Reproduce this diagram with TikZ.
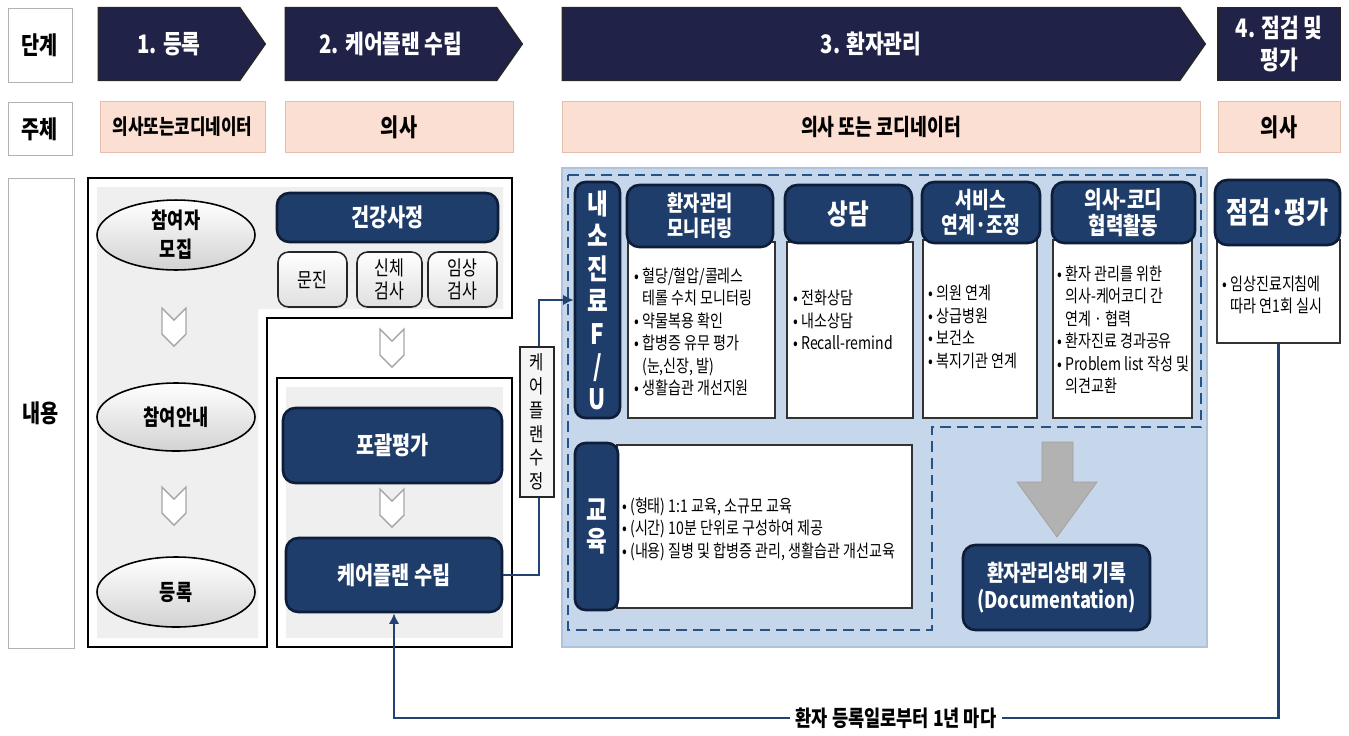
\documentclass[tikz,border=0pt]{standalone}
\usepackage{fontspec}
\setmainfont{Noto Sans CJK KR}[FakeStretch=0.8]
\usetikzlibrary{arrows.meta, shapes.symbols, shapes.geometric}

\definecolor{stagenavy}{RGB}{33,34,72}
\definecolor{boxblue}{RGB}{31,61,106}
\definecolor{boxedge}{RGB}{14,30,58}
\definecolor{peach}{RGB}{250,223,210}
\definecolor{peachedge}{RGB}{228,190,175}
\definecolor{areablue}{RGB}{199,215,235}
\definecolor{arearim}{RGB}{175,195,222}
\definecolor{dashblue}{RGB}{38,82,132}
\definecolor{linkblue}{RGB}{33,66,115}
\definecolor{panelgray}{RGB}{239,239,239}

\newcommand{\pxl}{0.02cm}
\newcommand{\contline}{\hphantom{•\ }}
\newcommand{\fsz}[2]{\fontsize{#1}{#2}\selectfont}

\tikzset{
  rowlabel/.style={draw=gray!60, fill=white, inner sep=0pt, font=\fsz{14}{16}\bfseries},
  stagebox/.style={fill=stagenavy, draw=black!85, line width=0.8pt, text=white,
    inner sep=0pt, align=center, font=\fsz{14.5}{18}\bfseries},
  whobox/.style={fill=peach, draw=peachedge, inner sep=0pt, font=\fsz{13}{15}\bfseries},
  oval/.style={ellipse, draw=black, line width=0.9pt, top color=white, bottom color=gray!35,
    inner sep=0pt, align=center, font=\fsz{12.5}{16.5}\bfseries},
  darkbox/.style={rounded corners=7pt, fill=boxblue, draw=boxedge, line width=1.5pt,
    text=white, inner sep=0pt, align=center},
  smallbox/.style={rounded corners=6pt, draw=black!85, line width=0.9pt, top color=white,
    bottom color=gray!25, inner sep=0pt, align=center, font=\fsz{11.5}{13}},
  bodybox/.style={draw=black!80, fill=white, line width=0.6pt, inner sep=0pt},
  bodytext/.style={anchor=west, align=left, inner sep=0pt, font=\fsz{10}{12.8}},
  chev/.style={draw=gray!70, fill=white, line width=0.8pt},
  link/.style={draw=linkblue, line width=1.3pt},
  zonedash/.style={draw=dashblue, line width=1.4pt, dash pattern=on 6pt off 3.5pt},
}

\begin{document}
\begin{tikzpicture}[x=0.02cm, y=-0.02cm]
\useasboundingbox (0,0) rectangle (1349,735);

% Row labels
\node[rowlabel, minimum width=64*\pxl, minimum height=74*\pxl] (lstage) at (40,45) {단계};
\node[rowlabel, minimum width=64*\pxl, minimum height=53*\pxl] (lwho) at (40,129) {주체};
\node[rowlabel, minimum width=66*\pxl, minimum height=470*\pxl] (lwhat) at (41,413) {내용};

% Stage arrows
\node[stagebox, signal, signal to=east, signal from=nowhere, signal pointer angle=110,
  minimum width=167*\pxl, minimum height=73*\pxl] (st1) at (169,44) {1. 등록};
\node[stagebox, signal, signal to=east, signal from=nowhere, signal pointer angle=110,
  minimum width=237*\pxl, minimum height=73*\pxl] (st2) at (391,44) {2. 케어플랜 수립};
\node[stagebox, signal, signal to=east, signal from=nowhere, signal pointer angle=110,
  minimum width=643*\pxl, minimum height=73*\pxl] (st3) at (871,44) {3. 환자관리};
\node[stagebox, minimum width=122*\pxl, minimum height=73*\pxl] (st4) at (1279,44) {4. 점검 및\\평가};

% Who does it
\node[whobox, minimum width=165*\pxl, minimum height=51*\pxl, font=\fsz{12}{14}\bfseries] (who1) at (182.5,127) {의사또는코디네이터};
\node[whobox, minimum width=228*\pxl, minimum height=51*\pxl, font=\fsz{14}{16}\bfseries] (who2) at (399,127) {의사};
\node[whobox, minimum width=638*\pxl, minimum height=51*\pxl] (who3) at (881,127) {의사 또는 코디네이터};
\node[whobox, minimum width=122*\pxl, minimum height=51*\pxl, font=\fsz{14}{16}\bfseries] (who4) at (1279,127) {의사};

% Step 1 and 2 panels
\draw[fill=white, line width=1pt] (88,178) -- (512,178) -- (512,318) -- (267,318) -- (267,647) -- (88,647) -- cycle;
\fill[panelgray] (97,187) -- (503,187) -- (503,309) -- (258,309) -- (258,638) -- (97,638) -- cycle;
\draw[fill=white, line width=1pt] (277,378) rectangle (512,647);
\fill[panelgray] (286,387) rectangle (503,638);

% Registration steps
\node[oval, minimum width=158*\pxl, minimum height=66*\pxl] (recruit) at (176,235) {참여자\\모집};
\node[oval, minimum width=158*\pxl, minimum height=68*\pxl] (guide) at (176,417) {참여안내};
\node[oval, minimum width=158*\pxl, minimum height=70*\pxl] (enrol) at (176,592) {등록};

% Chevrons
\foreach \cx/\cy in {174/327, 174/506, 392/348, 392/508}
  \draw[chev] ({\cx-12},{\cy-19}) -- (\cx,{\cy-7}) -- ({\cx+12},{\cy-19})
    -- ({\cx+12},{\cy+7}) -- (\cx,{\cy+19}) -- ({\cx-12},{\cy+7}) -- cycle;

% Health assessment
\node[darkbox, minimum width=221*\pxl, minimum height=49*\pxl, font=\fsz{14}{16}\bfseries] (health) at (387.5,217.5) {건강사정};
\node[smallbox, minimum width=69*\pxl, minimum height=55*\pxl] (interview) at (312.5,279.5) {문진};
\node[smallbox, minimum width=65*\pxl, minimum height=55*\pxl] (physical) at (389.5,279.5) {신체\\검사};
\node[smallbox, minimum width=69*\pxl, minimum height=55*\pxl] (clinical) at (462.5,279.5) {임상\\검사};

\node[darkbox, minimum width=219*\pxl, minimum height=75*\pxl, font=\fsz{14}{16}\bfseries] (assess) at (392.5,445.5) {포괄평가};
\node[darkbox, minimum width=216*\pxl, minimum height=74*\pxl, font=\fsz{14}{16}\bfseries] (plan) at (394,575) {케어플랜 수립};

% Step 3 area
\draw[fill=areablue, draw=arearim, line width=1pt] (562,168) rectangle (1207,647);
\draw[zonedash] (568,175) -- (1201,175) -- (1201,427) -- (932,427) -- (932,630) -- (568,630) -- cycle;

\node[darkbox, rounded corners=6pt, minimum width=45*\pxl, minimum height=236*\pxl, font=\fsz{16}{18.5}\bfseries] (fu) at (597.5,300) {내\\소\\진\\료\\F\\/\\U};

% Follow-up columns
\node[bodybox, minimum width=147*\pxl, minimum height=176*\pxl] (monbody) at (701.5,330) {};
\node[darkbox, minimum width=146*\pxl, minimum height=62*\pxl, font=\fsz{12.5}{14.2}\bfseries] (monhead) at (700,216) {환자관리\\모니터링};
\node[bodytext] (montext) at (634,332) {• 혈당/혈압/콜레스\\\contline 테롤 수치 모니터링\\• 약물복용 확인\\• 합병증 유무 평가\\\contline (눈,신장, 발)\\• 생활습관 개선지원};

\node[bodybox, minimum width=126*\pxl, minimum height=176*\pxl] (conbody) at (850,330) {};
\node[darkbox, minimum width=127*\pxl, minimum height=58*\pxl, font=\fsz{16}{18}\bfseries] (conhead) at (848.5,214) {상담};
\node[bodytext] (context) at (793,320) {• 전화상담\\• 내소상담\\• Recall-remind};

\node[bodybox, minimum width=114*\pxl, minimum height=178*\pxl] (serbody) at (980,329) {};
\node[darkbox, minimum width=118*\pxl, minimum height=61*\pxl, font=\fsz{13}{14.5}\bfseries] (serhead) at (981,212.5) {서비스\\연계·조정};
\node[bodytext] (sertext) at (928,327) {• 의원 연계\\• 상급병원\\• 보건소\\• 복지기관 연계};

\node[bodybox, minimum width=139*\pxl, minimum height=178*\pxl] (coobody) at (1122.5,329) {};
\node[darkbox, minimum width=143*\pxl, minimum height=61*\pxl, font=\fsz{13.5}{14.5}\bfseries] (coohead) at (1123.5,212.5) {의사-코디\\협력활동};
\node[bodytext] (cootext) at (1057,330) {• 환자 관리를 위한\\\contline 의사-케어코디 간\\\contline 연계 · 협력\\• 환자진료 경과공유\\• Problem list 작성 및\\\contline 의견교환};

% Education
\node[bodybox, minimum width=295*\pxl, minimum height=163*\pxl] (edubody) at (764.5,526.5) {};
\node[darkbox, rounded corners=6pt, minimum width=43*\pxl, minimum height=167*\pxl, font=\fsz{16}{17.5}\bfseries] (edu) at (596.5,526.5) {교\\육};
\node[bodytext] (edutext) at (622,529) {• (형태) 1:1 교육, 소규모 교육\\• (시간) 10분 단위로 구성하여 제공\\• (내용) 질병 및 합병증 관리, 생활습관 개선교육};

% Documentation
\draw[fill=gray!60, draw=gray!75] (1042,442) -- (1073,442) -- (1073,482) -- (1097,482) -- (1057,537) -- (1017,482) -- (1042,482) -- cycle;
\node[darkbox, minimum width=187*\pxl, minimum height=85*\pxl, font=\fsz{13}{15.5}\bfseries] (docrec) at (1056.5,587.5) {환자관리상태 기록\\(Documentation)};

% Step 4
\node[bodybox, minimum width=123*\pxl, minimum height=103*\pxl] (evalbody) at (1278.5,291.5) {};
\node[darkbox, minimum width=125*\pxl, minimum height=65*\pxl, font=\fsz{17}{19}\bfseries] (evalhead) at (1277.5,212.5) {점검·평가};
\node[bodytext] (evaltext) at (1222,295) {• 임상진료지침에\\\contline 따라 연1회 실시};

% Care plan revision link
\draw[link, -{Latex[length=6pt, width=6pt]}] (plan.east) -- ++(36,0) |- (fu.west);
\node[draw=black!85, fill=gray!8, line width=0.9pt, inner sep=0pt, minimum width=34*\pxl,
  minimum height=150*\pxl, align=center, font=\fsz{11}{13.5}] (revise) at (537,422) {케\\어\\플\\랜\\수\\정};

% Yearly loop
\node[fill=white, inner sep=3pt, font=\fsz{12.5}{14}\bfseries] (yearly) at (896,718) {환자 등록일로부터 1년 마다};
\draw[link] (evalbody.south) |- (yearly.east);
\draw[link, -{Latex[length=6pt, width=6pt]}] (yearly.west) -| (plan.south);

\end{tikzpicture}
\end{document}
